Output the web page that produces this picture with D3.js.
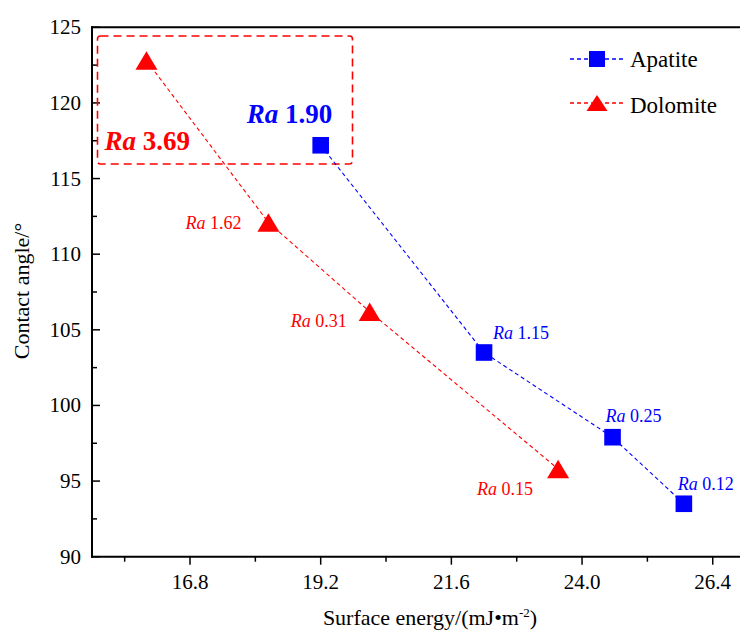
<!DOCTYPE html>
<html>
<head>
<meta charset="utf-8">
<script src="https://cdn.jsdelivr.net/npm/d3@7"></script>
<style>
  body { margin: 0; background: #fff; }
</style>
</head>
<body>
<svg id="chart" width="740" height="631" font-family="'Liberation Serif', 'DejaVu Serif', serif"></svg>
<script>
// data
var apatiteEnergy = [19.2, 22.2, 24.56, 25.87];
var apatiteAngle  = [117.2, 103.5, 97.9, 93.5];
var apatiteRa     = ["1.90", "1.15", "0.25", "0.12"];

var dolomiteEnergy = [16.0, 18.24, 20.1, 23.56];
var dolomiteAngle  = [122.8, 112.1, 106.2, 95.8];
var dolomiteRa     = ["3.69", "1.62", "0.31", "0.15"];

var xTicks = [16.8, 19.2, 21.6, 24.0, 26.4];
var yTicks = [90, 95, 100, 105, 110, 115, 120, 125];

// label placement (pixel offsets from the marker), first one in each series is the big bold one
var apatiteLabelOff  = [[-74, -22], [9, -14], [-7, -15], [-6, -14]];
var dolomiteLabelOff = [[-42, 89], [-83, 7], [-79, 15], [-81, 26]];

var blue = "#0000ff", red = "#ff0000";

var svg = d3.select("#chart");

var x = d3.scaleLinear().domain([15, 27]).range([92, 745.4]);
var y = d3.scaleLinear().domain([90, 125]).range([556.7, 27.3]);

// minor ticks
var xMinor = d3.range(15.6, 27, 2.4);
var yMinor = d3.range(92.5, 125, 5);

// x axis (ticks outward)
var xAxis = svg.append("g").attr("transform", "translate(0," + y(90) + ")");
xAxis.append("line").attr("x1", x(15) - 1).attr("x2", 745).attr("stroke", "#000").attr("stroke-width", 2);
xAxis.selectAll(".maj").data(xTicks).enter().append("line")
    .attr("x1", d => x(d)).attr("x2", d => x(d)).attr("y1", 0).attr("y2", 8)
    .attr("stroke", "#000").attr("stroke-width", 1.5);
xAxis.selectAll(".min").data(xMinor).enter().append("line")
    .attr("x1", d => x(d)).attr("x2", d => x(d)).attr("y1", 0).attr("y2", 5)
    .attr("stroke", "#000").attr("stroke-width", 1.5);
xAxis.selectAll("text").data(xTicks).enter().append("text")
    .attr("x", d => x(d)).attr("y", 32).attr("text-anchor", "middle")
    .attr("font-size", 21).text(d => d.toFixed(1));

// y axis (ticks inward)
var yAxis = svg.append("g").attr("transform", "translate(" + x(15) + ",0)");
yAxis.append("line").attr("y1", y(125) - 1).attr("y2", y(90) + 1).attr("stroke", "#000").attr("stroke-width", 2);
yAxis.selectAll(".maj").data(yTicks).enter().append("line")
    .attr("y1", d => y(d)).attr("y2", d => y(d)).attr("x1", 0).attr("x2", 8)
    .attr("stroke", "#000").attr("stroke-width", 1.5);
yAxis.selectAll(".min").data(yMinor).enter().append("line")
    .attr("y1", d => y(d)).attr("y2", d => y(d)).attr("x1", 0).attr("x2", 5)
    .attr("stroke", "#000").attr("stroke-width", 1.5);
yAxis.selectAll("text").data(yTicks).enter().append("text")
    .attr("x", -11).attr("y", d => y(d) + 7).attr("text-anchor", "end")
    .attr("font-size", 21).text(d => d);

// top frame line
svg.append("line").attr("x1", x(15) - 1).attr("x2", 745).attr("y1", y(125)).attr("y2", y(125))
    .attr("stroke", "#000").attr("stroke-width", 2);

// axis titles
svg.append("text").attr("x", 430).attr("y", 625).attr("text-anchor", "middle").attr("font-size", 22)
    .html("Surface energy/(mJ•m<tspan dy='-8' font-size='13'>-2</tspan><tspan dy='8'>)</tspan>");
svg.append("text").attr("transform", "translate(29,291) rotate(-90)").attr("text-anchor", "middle")
    .attr("font-size", 22).text("Contact angle/°");

// highlight box
svg.append("rect").attr("x", 97.5).attr("y", 36).attr("width", 255).attr("height", 128).attr("rx", 3)
    .attr("fill", "none").attr("stroke", red).attr("stroke-width", 1.6).attr("stroke-dasharray", "8,5");

function triPath(w, h) {
    return "M0," + (-h / 2) + "L" + (w / 2) + "," + (h / 2) + "L" + (-w / 2) + "," + (h / 2) + "Z";
}

function drawSeries(ex, ang, ra, off, color, shape) {
    var pts = ex.map((d, i) => [x(d), y(ang[i])]);
    svg.append("path").attr("d", d3.line()(pts)).attr("fill", "none")
        .attr("stroke", color).attr("stroke-width", 1.1).attr("stroke-dasharray", "4,3");
    var g = svg.append("g");
    pts.forEach(function (p, i) {
        if (shape == "square") {
            g.append("rect").attr("x", p[0] - 8.3).attr("y", p[1] - 8.3).attr("width", 16.6).attr("height", 16.6).attr("fill", color);
        } else {
            g.append("path").attr("d", triPath(22, 18.5)).attr("transform", "translate(" + p[0] + "," + p[1] + ")").attr("fill", color);
        }
        var big = i == 0;
        var t = svg.append("text").attr("x", p[0] + off[i][0]).attr("y", p[1] + off[i][1])
            .attr("fill", color).attr("font-size", big ? 27 : 18).attr("font-weight", big ? "bold" : "normal");
        t.append("tspan").attr("font-style", "italic").text("Ra");
        t.append("tspan").text(" " + ra[i]);
    });
}

drawSeries(apatiteEnergy, apatiteAngle, apatiteRa, apatiteLabelOff, blue, "square");
drawSeries(dolomiteEnergy, dolomiteAngle, dolomiteRa, dolomiteLabelOff, red, "triangle");

// legend
var legend = [["Apatite", blue, "square", 59, 67.3], ["Dolomite", red, "triangle", 103, 112.7]];
legend.forEach(function (l) {
    svg.append("line").attr("x1", 570).attr("x2", 623).attr("y1", l[3]).attr("y2", l[3])
        .attr("stroke", l[1]).attr("stroke-width", 1.3).attr("stroke-dasharray", "4,3");
    if (l[2] == "square") {
        svg.append("rect").attr("x", 589).attr("y", l[3] - 8).attr("width", 16).attr("height", 16).attr("fill", l[1]);
    } else {
        svg.append("path").attr("d", triPath(21, 16)).attr("transform", "translate(597," + l[3] + ")").attr("fill", l[1]);
    }
    svg.append("text").attr("x", 630).attr("y", l[4]).attr("font-size", 23).text(l[0]);
});
</script>
</body>
</html>
